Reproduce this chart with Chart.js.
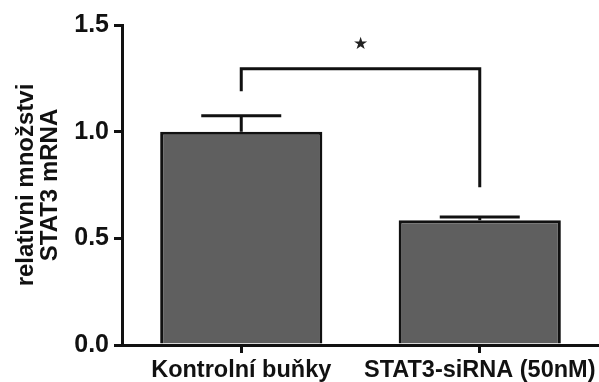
<!DOCTYPE html>
<html>
<head>
<meta charset="utf-8">
<script src="https://cdn.jsdelivr.net/npm/chart.js@4"></script>
<style>
  body { margin: 0; background: #fff; }
</style>
</head>
<body>
<canvas id="mrnaChart" width="599" height="382"></canvas>
<script>
// data
const categories = ['Kontrolní buňky', 'STAT3-siRNA (50nM)'];
const means = [1.0, 0.585];
const errors = [0.075, 0.015];
const yTitle = ['relativni množstvi', 'STAT3 mRNA'];
// significance bracket: left foot, top, right foot (in y units), label
const bracketLevels = [1.19, 1.295, 0.74];
const bracketLabel = '★';
const bracketLabelLevel = 1.41;

const FONT = "'Liberation Sans', Arial, sans-serif";
const INK = '#111';

// error bars + significance bracket
const extras = {
  id: 'extras',
  afterDatasetsDraw(chart) {
    const ctx = chart.ctx;
    const x = chart.scales.x, y = chart.scales.y;
    ctx.save();
    ctx.strokeStyle = INK;
    ctx.lineWidth = 3;
    ctx.lineCap = 'butt';
    means.forEach((m, i) => {
      const cx = x.getPixelForValue(i);
      const top = y.getPixelForValue(m + errors[i]);
      ctx.beginPath();
      ctx.moveTo(cx, y.getPixelForValue(m));
      ctx.lineTo(cx, top);
      ctx.moveTo(cx - 40, top);
      ctx.lineTo(cx + 40, top);
      ctx.stroke();
    });
    const x0 = x.getPixelForValue(0), x1 = x.getPixelForValue(1);
    ctx.beginPath();
    ctx.lineJoin = 'miter';
    ctx.moveTo(x0, y.getPixelForValue(bracketLevels[0]));
    ctx.lineTo(x0, y.getPixelForValue(bracketLevels[1]));
    ctx.lineTo(x1, y.getPixelForValue(bracketLevels[1]));
    ctx.lineTo(x1, y.getPixelForValue(bracketLevels[2]));
    ctx.stroke();
    ctx.fillStyle = '#222';
    ctx.font = "17px 'DejaVu Sans'";
    ctx.textAlign = 'center';
    ctx.textBaseline = 'middle';
    ctx.fillText(bracketLabel, (x0 + x1) / 2, y.getPixelForValue(bracketLabelLevel));
    ctx.restore();
  }
};

new Chart(document.getElementById('mrnaChart'), {
  type: 'bar',
  data: {
    labels: categories,
    datasets: [{
      data: means,
      backgroundColor: '#5f5f5f',
      borderColor: INK,
      borderWidth: 3,
      borderSkipped: 'bottom',
      barPercentage: 0.68,
      categoryPercentage: 1.0
    }]
  },
  options: {
    responsive: false,
    devicePixelRatio: 1,
    animation: false,
    layout: { padding: { top: 25, right: 0, bottom: 0, left: 0 } },
    plugins: { legend: { display: false }, tooltip: { enabled: false } },
    scales: {
      x: {
        grid: { offset: false, drawOnChartArea: false, drawTicks: true, tickLength: 8, color: INK, lineWidth: 3 },
        border: { display: true, color: INK, width: 3 },
        ticks: {
          color: INK, maxRotation: 0, autoSkip: false, padding: 3,
          font: { family: FONT, size: 23.5, weight: 'bold' }
        },
        afterFit(scale) { scale.height = 37; scale.paddingLeft = 0; scale.paddingRight = 0; }
      },
      y: {
        min: 0, max: 1.5,
        grid: { drawOnChartArea: false, drawTicks: true, tickLength: 8, color: INK, lineWidth: 3 },
        border: { display: true, color: INK, width: 3 },
        ticks: {
          stepSize: 0.5, color: INK, padding: 5,
          font: { family: FONT, size: 25, weight: 'bold' },
          callback: v => v.toFixed(1)
        },
        title: {
          display: true, text: yTitle, color: INK,
          padding: { top: 14, bottom: 0 },
          font: { family: FONT, size: 24, weight: 'bold', lineHeight: 1.0 }
        },
        afterFit(scale) { scale.width = 122; scale.paddingTop = 0; scale.paddingBottom = 0; }
      }
    }
  },
  plugins: [extras]
});
</script>
</body>
</html>
